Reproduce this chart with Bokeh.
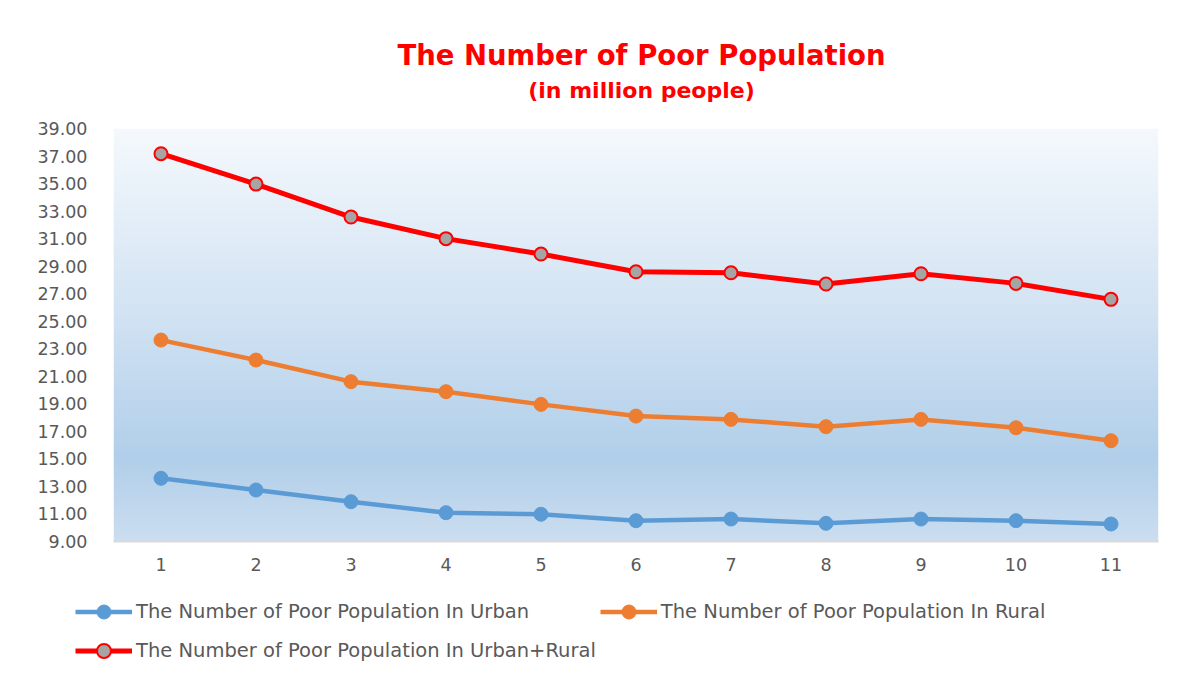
import numpy as np
from bokeh.plotting import figure
from bokeh.layouts import column
from bokeh.models import (Range1d, FixedTicker, NumeralTickFormatter, Legend,
                          LegendItem, Label)
from bokeh.embed import file_html
from bokeh.resources import INLINE

# ---- data ----
periods = [1, 2, 3, 4, 5, 6, 7, 8, 9, 10, 11]
urban = [13.59, 12.74, 11.89, 11.09, 10.98, 10.51, 10.63, 10.32, 10.63, 10.51, 10.27]
rural = [23.63, 22.18, 20.61, 19.88, 18.96, 18.11, 17.87, 17.34, 17.87, 17.26, 16.32]
total = [37.17, 34.96, 32.57, 31.00, 29.88, 28.59, 28.52, 27.70, 28.45, 27.75, 26.59]
y_ticks = [9, 11, 13, 15, 17, 19, 21, 23, 25, 27, 29, 31, 33, 35, 37, 39]
series_names = ["The Number of Poor Population In Urban",
                "The Number of Poor Population In Rural",
                "The Number of Poor Population In Urban+Rural"]
title_text = "The Number of Poor Population"
subtitle_text = "(in million people)"

X0, X1 = 0.5, 11.5
Y0, Y1 = 9, 39
W = 1164
HEAD_H = 110

styles = [
    dict(color="#5b9bd5", width=4.5, size=14, fill="#5b9bd5", mline=1),
    dict(color="#ed7d31", width=4.5, size=14, fill="#ed7d31", mline=1),
    dict(color="#ff0000", width=5, size=13, fill="#a5a5a5", mline=2),
]

# ---- header strip with title and subtitle ----
head = figure(width=W, height=HEAD_H, x_range=Range1d(0, W), y_range=Range1d(0, HEAD_H),
              output_backend="svg", toolbar_location=None, title=None,
              frame_align=False,
              min_border_left=0, min_border_right=0, min_border_top=0,
              min_border_bottom=0, outline_line_color=None,
              border_fill_color="white", background_fill_color="white")
head.xaxis.visible = False
head.yaxis.visible = False
head.xgrid.visible = False
head.ygrid.visible = False
head.add_layout(Label(x=641, y=HEAD_H - 54, text=title_text, text_align="center",
                      text_baseline="middle", text_font="DejaVu Sans",
                      text_font_style="bold", text_font_size="27.5px",
                      text_color="#ff0000"))
head.add_layout(Label(x=641, y=HEAD_H - 90, text=subtitle_text, text_align="center",
                      text_baseline="middle", text_font="DejaVu Sans",
                      text_font_style="bold", text_font_size="22px",
                      text_color="#ff0000"))

# ---- main chart ----
p = figure(width=W, height=585 - HEAD_H,
           x_range=Range1d(X0, X1), y_range=Range1d(Y0, Y1),
           output_backend="svg", toolbar_location=None, title=None,
           frame_align=False,
           min_border_left=113, min_border_right=6,
           min_border_top=128 - HEAD_H, min_border_bottom=44,
           outline_line_color=None, border_fill_color="white",
           background_fill_color="white")

# vertical gradient background for the plot area
n = 420
stops = [(0.0, (245, 249, 253)), (0.45, (210, 227, 243)),
         (0.80, (177, 207, 234)), (1.0, (204, 222, 240))]  # pos from top
pos = np.linspace(1.0, 0.0, n)  # row 0 = bottom
sp = [s[0] for s in stops]
rgba = np.zeros((n, 1, 4), dtype=np.uint8)
for c in range(3):
    rgba[:, 0, c] = np.interp(pos, sp, [s[1][c] for s in stops]).astype(np.uint8)
rgba[:, 0, 3] = 255
img = rgba.view(dtype=np.uint32).reshape((n, 1))
p.image_rgba(image=[img], x=X0, y=Y0, dw=X1 - X0, dh=Y1 - Y0)

for vals, st in zip([urban, rural, total], styles):
    p.line(periods, vals, line_color=st["color"], line_width=st["width"])
    p.scatter(periods, vals, size=st["size"], fill_color=st["fill"],
              line_color=st["color"], line_width=st["mline"])

tick_font = "DejaVu Sans"
p.xaxis.ticker = FixedTicker(ticks=periods)
p.xaxis.axis_line_color = "#d9d9d9"
p.xaxis.axis_line_width = 2
p.xaxis.major_tick_line_color = None
p.xaxis.minor_tick_line_color = None
p.xaxis.major_tick_out = 0
p.xaxis.minor_tick_out = 0
p.xaxis.major_label_text_font = tick_font
p.xaxis.major_label_text_font_size = "17.5px"
p.xaxis.major_label_text_color = "#595959"
p.xaxis.major_label_standoff = 16

p.yaxis.ticker = FixedTicker(ticks=y_ticks)
p.yaxis.formatter = NumeralTickFormatter(format="0.00")
p.yaxis.axis_line_color = None
p.yaxis.major_tick_line_color = None
p.yaxis.minor_tick_line_color = None
p.yaxis.major_tick_out = 0
p.yaxis.minor_tick_out = 0
p.yaxis.major_label_text_font = tick_font
p.yaxis.major_label_text_font_size = "17.5px"
p.yaxis.major_label_text_color = "#595959"
p.yaxis.major_label_standoff = 26

p.xgrid.visible = False
p.ygrid.visible = False

# ---- legend strip below the chart ----
lg = figure(width=W, height=85, x_range=Range1d(0, 1), y_range=Range1d(0, 1),
            output_backend="svg", toolbar_location=None, title=None,
            frame_align=False,
            min_border_left=0, min_border_right=0, min_border_top=0,
            min_border_bottom=0, outline_line_color=None,
            border_fill_color="white", background_fill_color="white")
lg.xaxis.visible = False
lg.yaxis.visible = False
lg.xgrid.visible = False
lg.ygrid.visible = False

items = []
for name, vals, st in zip(series_names, [urban, rural, total], styles):
    # same series, outside this strip's ranges: only their legend glyphs show
    rl = lg.line(periods, vals, line_color=st["color"], line_width=st["width"])
    rs = lg.scatter(periods, vals, size=st["size"], fill_color=st["fill"],
                    line_color=st["color"], line_width=st["mline"])
    items.append(LegendItem(label=name, renderers=[rl, rs]))

legend = Legend(items=items, location=(75, 2), orientation="horizontal", ncols=2,
                background_fill_alpha=0, border_line_color=None,
                padding=0, margin=0, spacing=4,
                glyph_width=57, glyph_height=35, label_standoff=4,
                label_height=35,
                label_text_font="DejaVu Sans", label_text_font_size="19.5px",
                label_text_color="#595959")
lg.add_layout(legend)

layout = column(head, p, lg, spacing=0)
open("out.html", "w").write(file_html(layout, INLINE))
